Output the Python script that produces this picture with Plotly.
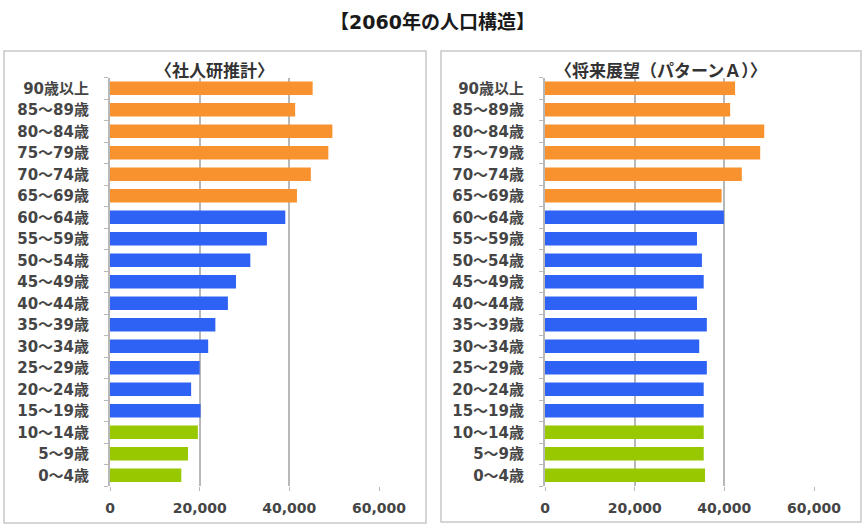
import plotly.graph_objects as go

categories = ["0～4歳", "5～9歳", "10～14歳", "15～19歳", "20～24歳", "25～29歳",
              "30～34歳", "35～39歳", "40～44歳", "45～49歳", "50～54歳", "55～59歳",
              "60～64歳", "65～69歳", "70～74歳", "75～79歳", "80～84歳", "85～89歳",
              "90歳以上"]

shajinken = [15900, 17400, 19600, 20200, 18100, 20000, 21900, 23500, 26300, 28100,
             31300, 35000, 39100, 41700, 44800, 48700, 49600, 41300, 45200]
shourai = [35700, 35400, 35400, 35400, 35400, 36100, 34400, 36100, 33900, 35400,
           35000, 33900, 39900, 39400, 43900, 48000, 48900, 41300, 42400]

groups = ["young"] * 3 + ["work"] * 10 + ["old"] * 6
group_colors = {"young": "#97C800", "work": "#2E62F4", "old": "#F8922E"}
bar_colors = [group_colors[g] for g in groups]

title_text = "【2060年の人口構造】"
sub_left = "〈社人研推計〉"
sub_right = "〈将来展望（パターンＡ）〉"
x_ticks = [0, 20000, 40000, 60000]
x_tick_labels = ["0", "20,000", "40,000", "60,000"]

W, H = 865, 528
fig = go.Figure()
fig.add_trace(go.Bar(y=categories, x=shajinken, orientation="h",
                     marker=dict(color=bar_colors, line=dict(width=0)),
                     xaxis="x", yaxis="y", showlegend=False))
fig.add_trace(go.Bar(y=categories, x=shourai, orientation="h",
                     marker=dict(color=bar_colors, line=dict(width=0)),
                     xaxis="x2", yaxis="y2", showlegend=False))

ydom = [1 - 486 / H, 1 - 77.5 / H]
font_fam = "DejaVu Sans, Noto Sans CJK JP"
xtickfont = dict(family=font_fam, size=14, color="#454545", weight="bold")
ytickfont = dict(family=font_fam, size=15, color="#454545", weight="bold")

def xaxis(dom, anchor):
    return dict(domain=dom, range=[0, 60000], tickvals=x_ticks, ticktext=x_tick_labels,
                showgrid=True, gridcolor="#b8b8b8", gridwidth=2, zeroline=False,
                showline=False, ticks="outside", ticklen=4, tickcolor="#b8b8b8",
                tickfont=xtickfont, anchor=anchor, fixedrange=True, ticklabelstandoff=5,
                automargin=False)

def yaxis(anchor):
    return dict(domain=ydom, type="category", categoryorder="array", categoryarray=categories,
                showline=True, linecolor="#b8b8b8", linewidth=2, ticks="outside",
                ticklen=4, tickcolor="#b8b8b8", tickson="boundaries", tickfont=ytickfont,
                anchor=anchor, automargin=False, ticklabelstandoff=16, showgrid=False,
                fixedrange=True)

fig.update_layout(
    width=W, height=H, autosize=False, margin=dict(l=0, r=0, t=0, b=0, pad=0),
    paper_bgcolor="white", plot_bgcolor="white", bargap=0.38,
    xaxis=xaxis([110 / W, 379 / W], "y"),
    yaxis=yaxis("x"),
    xaxis2=xaxis([545 / W, 814 / W], "y2"),
    yaxis2=yaxis("x2"),
    shapes=[
        dict(type="rect", xref="paper", yref="paper", x0=4 / W, x1=426 / W,
             y0=1 - 523 / H, y1=1 - 51 / H, line=dict(color="#c8c8c8", width=1.5)),
        dict(type="rect", xref="paper", yref="paper", x0=441 / W, x1=861 / W,
             y0=1 - 522 / H, y1=1 - 51 / H, line=dict(color="#c8c8c8", width=1.5)),
    ],
    annotations=[
        dict(text="<b>" + title_text + "</b>", x=432 / W, y=1 - 22 / H, xref="paper", yref="paper",
             showarrow=False, font=dict(family=font_fam, size=19, color="#1a1a1a"),
             xanchor="center", yanchor="middle"),
        dict(text="<b>" + sub_left + "</b>", x=214 / W, y=1 - 71 / H, xref="paper", yref="paper",
             showarrow=False, font=dict(family=font_fam, size=17, color="#333333"),
             xanchor="center", yanchor="middle"),
        dict(text="<b>" + sub_right + "</b>", x=661 / W, y=1 - 71 / H, xref="paper", yref="paper",
             showarrow=False, font=dict(family=font_fam, size=17, color="#333333"),
             xanchor="center", yanchor="middle"),
    ],
)

fig.write_html(
    "out.html",
    config={"responsive": False, "displayModeBar": False},
    post_script="document.body.style.margin='0';",
)
